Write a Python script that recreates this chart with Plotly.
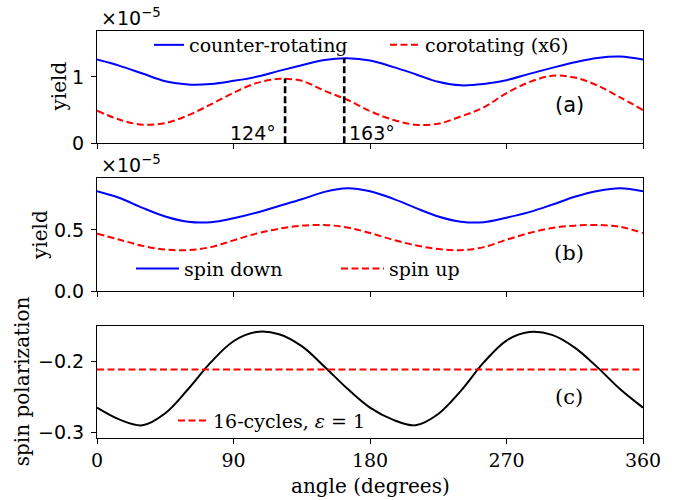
import plotly.graph_objects as go

# ---------------- data ----------------
ANGLES = list(range(0, 361, 15))

COUNTER_ROTATING = [1.26, 1.165, 1.05, 0.935, 0.885, 0.893, 0.94, 1.0, 1.09, 1.175, 1.255, 1.28, 1.245,
                    1.15, 1.04, 0.925, 0.872, 0.893, 0.95, 1.045, 1.135, 1.22, 1.285, 1.305, 1.26]
COROTATING_X6 = [0.49, 0.355, 0.28, 0.305, 0.42, 0.585, 0.76, 0.905, 0.97, 0.94, 0.79, 0.655, 0.485,
                 0.355, 0.28, 0.295, 0.405, 0.54, 0.755, 0.92, 1.015, 0.99, 0.87, 0.69, 0.5]

SPIN_DOWN = [0.815, 0.76, 0.68, 0.61, 0.567, 0.563, 0.595, 0.64, 0.695, 0.75, 0.81, 0.84, 0.815,
             0.755, 0.68, 0.61, 0.567, 0.563, 0.6, 0.645, 0.705, 0.77, 0.817, 0.84, 0.815]
SPIN_UP = [0.47, 0.42, 0.37, 0.34, 0.335, 0.36, 0.415, 0.47, 0.51, 0.535, 0.54, 0.52, 0.475,
           0.42, 0.375, 0.345, 0.335, 0.36, 0.42, 0.475, 0.515, 0.535, 0.54, 0.525, 0.475]

POLARIZATION = [-0.265, -0.282, -0.290, -0.273, -0.239, -0.201, -0.171, -0.158, -0.161, -0.178, -0.207,
                -0.238, -0.265, -0.282, -0.290, -0.274, -0.241, -0.201, -0.170, -0.158, -0.162,
                -0.180, -0.208, -0.239, -0.265]
POL_16_CYCLES = -0.211

MARK_ANGLES = [124, 163]
MARK_TOPS = [0.975, 1.28]
MARK_LABELS = ["124°", "163°"]

XTICKS = [0, 90, 180, 270, 360]
YTICKS_A = [0, 1]
YTICKS_A_TEXT = ["0", "1"]
YTICKS_B = [0.0, 0.5]
YTICKS_B_TEXT = ["0.0", "0.5"]
YTICKS_C = [-0.3, -0.2]
YTICKS_C_TEXT = ["\u22120.3", "\u22120.2"]

SERIF = "DejaVu Serif"
SANS = "DejaVu Sans"
BLUE = "#0000ff"
RED = "#ff0000"

fig = go.Figure()

# panel (a)
fig.add_trace(go.Scatter(x=ANGLES, y=COUNTER_ROTATING, mode="lines", name="counter-rotating",
                         line=dict(color=BLUE, width=2, shape="spline"),
                         xaxis="x", yaxis="y", legend="legend"))
fig.add_trace(go.Scatter(x=ANGLES, y=COROTATING_X6, mode="lines", name="corotating (x6)",
                         line=dict(color=RED, width=2, shape="spline", dash="7px,3.5px"),
                         xaxis="x", yaxis="y", legend="legend"))
for a, top in zip(MARK_ANGLES, MARK_TOPS):
    fig.add_trace(go.Scatter(x=[a, a], y=[0, top], mode="lines", showlegend=False,
                             line=dict(color="black", width=2.6, dash="7px,3px"),
                             xaxis="x", yaxis="y"))

# panel (b)
fig.add_trace(go.Scatter(x=ANGLES, y=SPIN_DOWN, mode="lines", name="spin down",
                         line=dict(color=BLUE, width=2, shape="spline"),
                         xaxis="x2", yaxis="y2", legend="legend2"))
fig.add_trace(go.Scatter(x=ANGLES, y=SPIN_UP, mode="lines", name="spin up",
                         line=dict(color=RED, width=2, shape="spline", dash="7px,3.5px"),
                         xaxis="x2", yaxis="y2", legend="legend2"))

# panel (c)
fig.add_trace(go.Scatter(x=ANGLES, y=POLARIZATION, mode="lines", showlegend=False,
                         line=dict(color="black", width=2, shape="spline"),
                         xaxis="x3", yaxis="y3"))
fig.add_trace(go.Scatter(x=[XTICKS[0], XTICKS[-1]], y=[POL_16_CYCLES, POL_16_CYCLES], mode="lines",
                         name="16-cycles, <i>ε</i> = 1",
                         line=dict(color=RED, width=2, dash="7px,3.5px"),
                         xaxis="x3", yaxis="y3", legend="legend3"))

H = 407.0
def py(px):
    return (438.0 - px) / H

def pxr(px):
    return (px - 97.0) / 546.0

axis_common = dict(showline=True, linecolor="black", linewidth=1.1, mirror=True,
                   ticks="outside", ticklen=5, tickwidth=1.1, tickcolor="black",
                   showgrid=False, zeroline=False)

xcommon = dict(axis_common, range=[0, 360], tickvals=XTICKS, domain=[0, 1])
ytickfont = dict(family=SANS, size=19, color="black")

legend_common = dict(orientation="h", xanchor="left", yanchor="middle", bgcolor="rgba(0,0,0,0)",
                     borderwidth=0, font=dict(family=SERIF, size=19, color="black"))

layout = dict(
    width=682, height=500,
    margin=dict(l=97, r=39, t=31, b=62),
    paper_bgcolor="white", plot_bgcolor="white",
    xaxis=dict(xcommon, anchor="y", showticklabels=False),
    xaxis2=dict(xcommon, anchor="y2", showticklabels=False),
    xaxis3=dict(xcommon, anchor="y3", showticklabels=True,
                tickfont=dict(family=SERIF, size=19, color="black")),
    yaxis=dict(axis_common, anchor="x", domain=[py(143.3), 1.0], range=[0, 1.69],
               tickvals=YTICKS_A, ticktext=YTICKS_A_TEXT, tickfont=ytickfont, ticklabelstandoff=3),
    yaxis2=dict(axis_common, anchor="x2", domain=[py(291.3), py(178)], range=[0, 0.923],
                tickvals=YTICKS_B, ticktext=YTICKS_B_TEXT, tickfont=ytickfont, ticklabelstandoff=3),
    yaxis3=dict(axis_common, anchor="x3", domain=[0, py(325.7)], range=[-0.308, -0.149],
                tickvals=YTICKS_C, ticktext=YTICKS_C_TEXT, tickfont=ytickfont, ticklabelstandoff=3),
    legend=dict(legend_common, x=pxr(149), y=py(45), entrywidth=191, entrywidthmode="pixels"),
    legend2=dict(legend_common, x=pxr(131), y=py(268.7), entrywidth=147, entrywidthmode="pixels",
                 itemwidth=43),
    legend3=dict(legend_common, x=pxr(173), y=py(420.7)),
    showlegend=True,
)
fig.update_layout(**layout)

ann = []
# panel labels
ann.append(dict(text="(a)", x=311.5, y=0.574, xref="x", yref="y", showarrow=False,
                xanchor="center", yanchor="middle", font=dict(family=SANS, size=21, color="black")))
ann.append(dict(text="(b)", x=311.5, y=0.312, xref="x2", yref="y2", showarrow=False,
                xanchor="center", yanchor="middle", font=dict(family=SERIF, size=21, color="black")))
ann.append(dict(text="(c)", x=311.5, y=-0.2497, xref="x3", yref="y3", showarrow=False,
                xanchor="center", yanchor="middle", font=dict(family=SERIF, size=21, color="black")))
# angle markers
ann.append(dict(text=MARK_LABELS[0], x=MARK_ANGLES[0], y=0.155, xref="x", yref="y", showarrow=False,
                xanchor="right", yanchor="middle", xshift=-7, font=dict(family=SANS, size=19, color="black")))
ann.append(dict(text=MARK_LABELS[1], x=MARK_ANGLES[1], y=0.155, xref="x", yref="y", showarrow=False,
                xanchor="left", yanchor="middle", xshift=3, font=dict(family=SANS, size=19, color="black")))
# offset text
for ytop in (1.0, py(178)):
    ann.append(dict(text="×10<sup>−5</sup>", x=pxr(99), y=ytop, xref="paper", yref="paper",
                    xanchor="left", yanchor="bottom", showarrow=False,
                    font=dict(family=SANS, size=19, color="black")))
# axis titles
ann.append(dict(text="yield", x=pxr(58.5), y=py(87), xref="paper", yref="paper",
                xanchor="center", yanchor="middle",
                textangle=-90, showarrow=False, font=dict(family=SERIF, size=20, color="black")))
ann.append(dict(text="yield", x=pxr(40), y=py(235), xref="paper", yref="paper",
                xanchor="center", yanchor="middle",
                textangle=-90, showarrow=False, font=dict(family=SERIF, size=20, color="black")))
ann.append(dict(text="spin polarization", x=pxr(21.7), y=py(381.5), xref="paper", yref="paper",
                xanchor="center", yanchor="middle",
                textangle=-90, showarrow=False, font=dict(family=SERIF, size=20, color="black")))
ann.append(dict(text="angle (degrees)", x=0.5, y=py(486), xref="paper", yref="paper",
                xanchor="center", yanchor="middle",
                showarrow=False, font=dict(family=SERIF, size=20, color="black")))
fig.update_layout(annotations=ann)

fig.write_html("out.html", config={"displayModeBar": False},
               post_script="document.body.style.margin='0';")
